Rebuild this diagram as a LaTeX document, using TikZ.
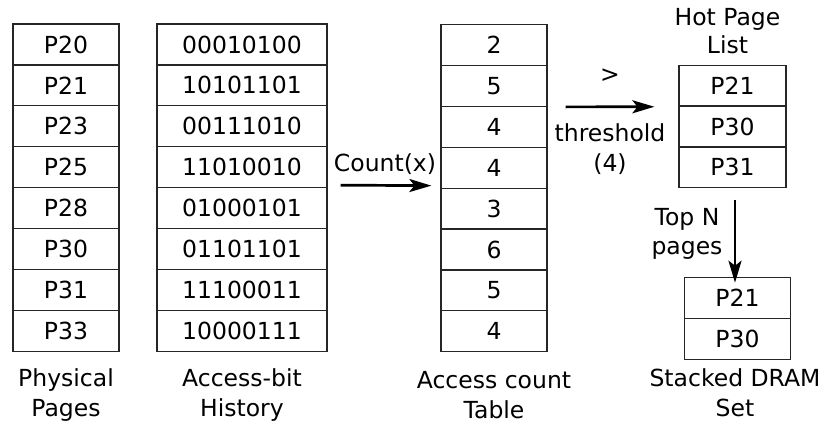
\documentclass[tikz,border=0pt]{standalone}
\usepackage{fontspec}
\setmainfont{DejaVu Sans}
\usetikzlibrary{arrows.meta}
\begin{document}
\begin{tikzpicture}[x=1pt,y=-1pt,
  every node/.style={font=\fontsize{23.5}{28}\selectfont},
  cell/.style={draw=black!85,line width=1.2pt,inner sep=0pt,minimum height=40.9pt},
  narrow/.style={cell,minimum width=106pt},
  wide/.style={cell,minimum width=170pt},
  lbl/.style={anchor=base,inner sep=0pt},
  flow/.style={line width=2.7pt,-{Stealth[length=22pt,width=13pt,inset=5pt]}}]
\useasboundingbox (0,0) rectangle (822,423);

% physical pages, access-bit history and access counts
\foreach \i/\p/\h/\c in {1/P20/00010100/2,2/P21/10101101/5,3/P23/00111010/4,
    4/P25/11010010/4,5/P28/01000101/3,6/P30/01101101/6,7/P31/11100011/5,8/P33/10000111/4}{
  \node[narrow] (p\i) at (66,{24+(\i-0.5)*40.9}) {\p};
  \node[wide] (h\i) at (242,{24+(\i-0.5)*40.9}) {\h};
  \node[narrow] (c\i) at (494,{24.5+(\i-0.5)*40.9}) {\c};
}

% hot page list
\foreach \i/\p in {1/P21,2/P30,3/P31}{
  \node[narrow,minimum width=107pt] (l\i) at (732.5,{65.3+(\i-0.5)*40.8}) {\p};
}
% stacked DRAM set
\foreach \i/\p in {1/P21,2/P30}{
  \node[narrow,minimum width=106.5pt] (d\i) at (737.5,{277.3+(\i-0.5)*40.9}) {\p};
}

% connectors
\draw[flow] ([xshift=13pt,yshift=-18pt]h4.east) -- ([xshift=-9pt,yshift=-18pt]c4.west);
\draw[flow] ([xshift=18pt]c2.south east) -- ([xshift=-24pt]l1.south west);
\draw[flow] ([xshift=2.5pt,yshift=-12pt]l3.south) -- ([xshift=-2.5pt,yshift=-6pt]d1.north);

% labels
\node[lbl] (cnt) at (385,171.7) {Count(x)};
\node[inner sep=0pt] (gt) at (610,76) {>};
\node[lbl] (thr) at (610,141.7) {threshold};
\node[lbl] (thv) at (610,171.7) {(4)};
\node[lbl] (hot1) at (727.5,25) {Hot Page};
\node[lbl] (hot2) at (727.5,53.5) {List};
\node[lbl] (top1) at (687,225) {Top N};
\node[lbl] (top2) at (687,254) {pages};

\node[lbl] (b1a) at (66,386.7) {Physical};
\node[lbl] (b1b) at (66,416.7) {Pages};
\node[lbl] (b2a) at (242,386.7) {Access-bit};
\node[lbl] (b2b) at (242,416.7) {History};
\node[lbl] (b3a) at (494,388.3) {Access count};
\node[lbl] (b3b) at (494,418.3) {Table};
\node[lbl] (b4a) at (735,386.7) {Stacked DRAM};
\node[lbl] (b4b) at (735,416.7) {Set};
\end{tikzpicture}
\end{document}
